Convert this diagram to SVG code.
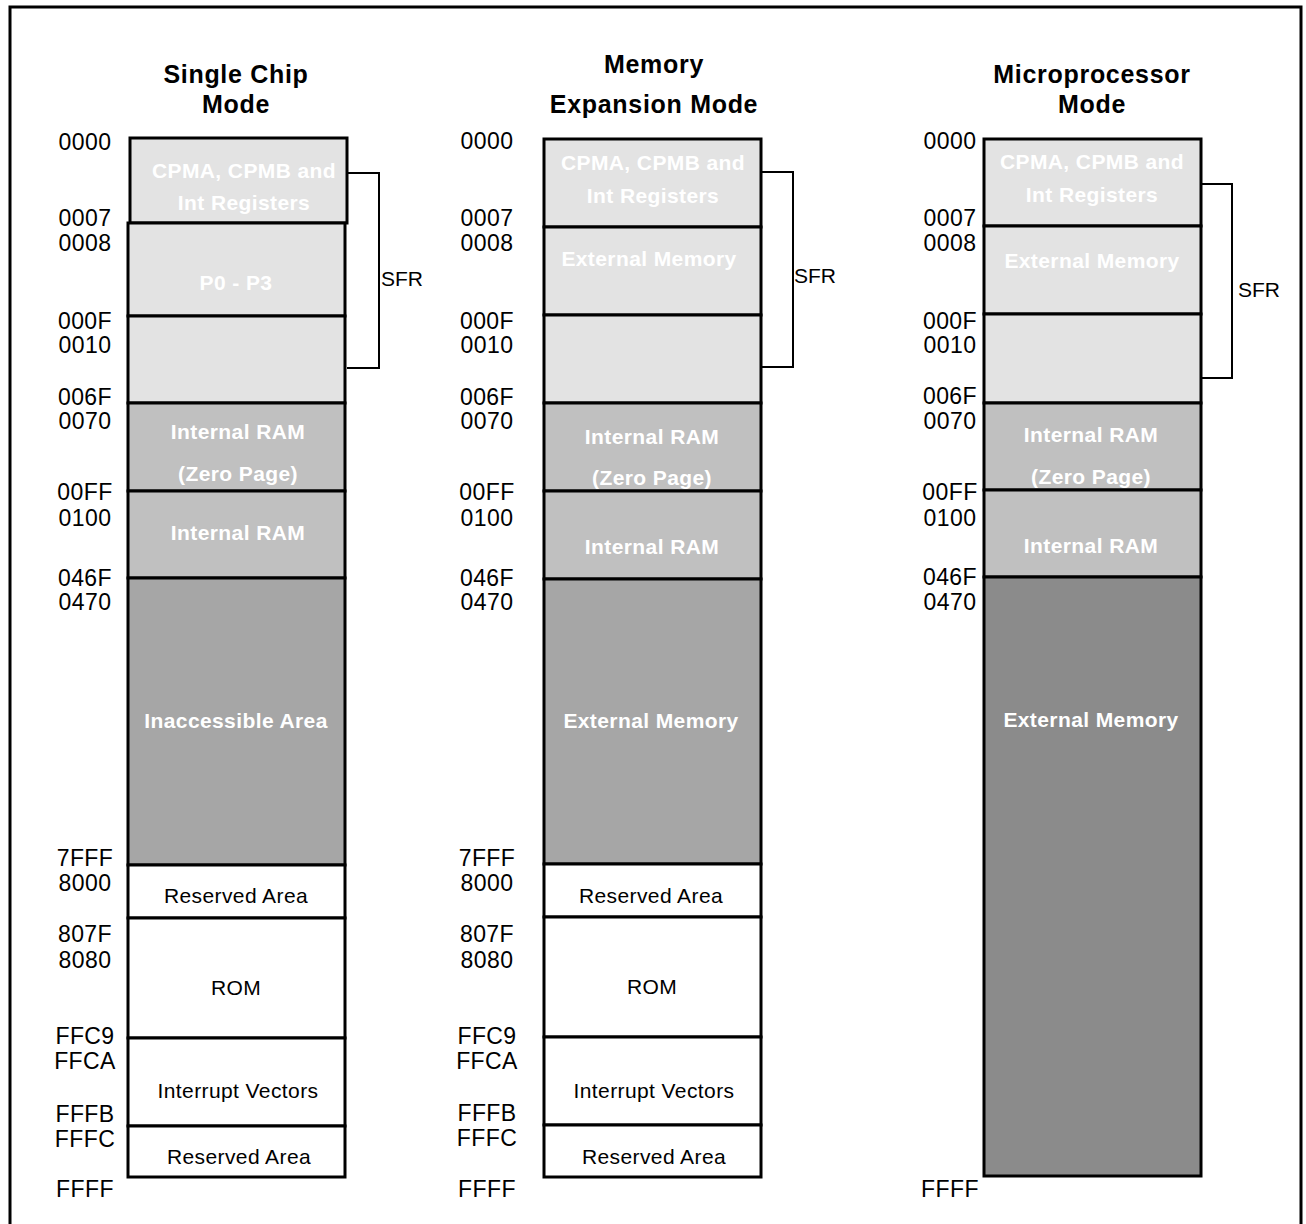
<svg xmlns="http://www.w3.org/2000/svg" width="1306" height="1224" viewBox="0 0 1306 1224">
<style>
.hdr{font-family:"Liberation Sans",Arial,sans-serif;font-weight:bold;font-size:25px;letter-spacing:0.7px;fill:#000;text-anchor:middle}
.addr{font-family:"Liberation Sans",Arial,sans-serif;font-size:23px;letter-spacing:0.4px;fill:#000;text-anchor:middle}
.wl{font-family:"Liberation Sans",Arial,sans-serif;font-weight:bold;font-size:21px;letter-spacing:0.4px;fill:#fff;text-anchor:middle}
.bl{font-family:"Liberation Sans",Arial,sans-serif;font-size:21px;letter-spacing:0.4px;fill:#000;text-anchor:middle}
.sfr{font-family:"Liberation Sans",Arial,sans-serif;font-size:21px;fill:#000}
.cell{stroke:#000;stroke-width:3}
.c1{fill:#e3e3e3}.c2{fill:#c0c0c0}.c3{fill:#a6a6a6}.c4{fill:#8b8b8b}.cw{fill:#fff}
.br{fill:none;stroke:#000;stroke-width:2}
</style>
<rect width="1306" height="1224" fill="#fff"/>
<path d="M10,1224 V7 H1301 V1224" fill="none" stroke="#000" stroke-width="3"/>

<g id="col1">
<text class="hdr" x="236" y="83">Single Chip</text>
<text class="hdr" x="236" y="113">Mode</text>
<g id="c1-cpma"><rect class="cell c1" x="130" y="138" width="217" height="85"/><text class="wl" x="244" y="178">CPMA, CPMB and</text><text class="wl" x="244" y="210">Int Registers</text></g>
<g id="c1-p0p3"><rect class="cell c1" x="128" y="223" width="217" height="93"/><text class="wl" x="236" y="290">P0 - P3</text></g>
<g id="c1-blank"><rect class="cell c1" x="128" y="316" width="217" height="87"/></g>
<g id="c1-zp"><rect class="cell c2" x="128" y="403" width="217" height="88"/><text class="wl" x="238" y="439">Internal RAM</text><text class="wl" x="238" y="481">(Zero Page)</text></g>
<g id="c1-iram"><rect class="cell c2" x="128" y="491" width="217" height="87"/><text class="wl" x="238" y="540">Internal RAM</text></g>
<g id="c1-inacc"><rect class="cell c3" x="128" y="578" width="217" height="287"/><text class="wl" x="236" y="728">Inaccessible Area</text></g>
<g id="c1-res1"><rect class="cell cw" x="128" y="865" width="217" height="53"/><text class="bl" x="236" y="903">Reserved Area</text></g>
<g id="c1-rom"><rect class="cell cw" x="128" y="918" width="217" height="120"/><text class="bl" x="236" y="995">ROM</text></g>
<g id="c1-iv"><rect class="cell cw" x="128" y="1038" width="217" height="88"/><text class="bl" x="238" y="1098">Interrupt Vectors</text></g>
<g id="c1-res2"><rect class="cell cw" x="128" y="1126" width="217" height="51"/><text class="bl" x="239" y="1164">Reserved Area</text></g>
<path class="br" d="M347,173 H379 V368 H347"/>
<text class="sfr" x="381" y="286">SFR</text>
<g id="c1-addr">
<text class="addr" x="85" y="150">0000</text>
<text class="addr" x="85" y="226">0007</text>
<text class="addr" x="85" y="251">0008</text>
<text class="addr" x="85" y="329">000F</text>
<text class="addr" x="85" y="353">0010</text>
<text class="addr" x="85" y="405">006F</text>
<text class="addr" x="85" y="429">0070</text>
<text class="addr" x="85" y="500">00FF</text>
<text class="addr" x="85" y="526">0100</text>
<text class="addr" x="85" y="586">046F</text>
<text class="addr" x="85" y="610">0470</text>
<text class="addr" x="85" y="866">7FFF</text>
<text class="addr" x="85" y="891">8000</text>
<text class="addr" x="85" y="942">807F</text>
<text class="addr" x="85" y="968">8080</text>
<text class="addr" x="85" y="1044">FFC9</text>
<text class="addr" x="85" y="1069">FFCA</text>
<text class="addr" x="85" y="1122">FFFB</text>
<text class="addr" x="85" y="1147">FFFC</text>
<text class="addr" x="85" y="1197">FFFF</text>
</g>
</g>

<g id="col2">
<text class="hdr" x="654" y="73">Memory</text>
<text class="hdr" x="654" y="113">Expansion Mode</text>
<g id="c2-cpma"><rect class="cell c1" x="544" y="139" width="217" height="88"/><text class="wl" x="653" y="170">CPMA, CPMB and</text><text class="wl" x="653" y="203">Int Registers</text></g>
<g id="c2-ext1"><rect class="cell c1" x="544" y="227" width="217" height="88"/><text class="wl" x="649" y="266">External Memory</text></g>
<g id="c2-blank"><rect class="cell c1" x="544" y="315" width="217" height="88"/></g>
<g id="c2-zp"><rect class="cell c2" x="544" y="403" width="217" height="88"/><text class="wl" x="652" y="444">Internal RAM</text><text class="wl" x="652" y="485">(Zero Page)</text></g>
<g id="c2-iram"><rect class="cell c2" x="544" y="491" width="217" height="88"/><text class="wl" x="652" y="554">Internal RAM</text></g>
<g id="c2-ext2"><rect class="cell c3" x="544" y="579" width="217" height="285"/><text class="wl" x="651" y="728">External Memory</text></g>
<g id="c2-res1"><rect class="cell cw" x="544" y="864" width="217" height="53"/><text class="bl" x="651" y="903">Reserved Area</text></g>
<g id="c2-rom"><rect class="cell cw" x="544" y="917" width="217" height="120"/><text class="bl" x="652" y="994">ROM</text></g>
<g id="c2-iv"><rect class="cell cw" x="544" y="1037" width="217" height="88"/><text class="bl" x="654" y="1098">Interrupt Vectors</text></g>
<g id="c2-res2"><rect class="cell cw" x="544" y="1125" width="217" height="52"/><text class="bl" x="654" y="1164">Reserved Area</text></g>
<path class="br" d="M761,172 H793 V367 H761"/>
<text class="sfr" x="794" y="283">SFR</text>
<g id="c2-addr">
<text class="addr" x="487" y="149">0000</text>
<text class="addr" x="487" y="226">0007</text>
<text class="addr" x="487" y="251">0008</text>
<text class="addr" x="487" y="329">000F</text>
<text class="addr" x="487" y="353">0010</text>
<text class="addr" x="487" y="405">006F</text>
<text class="addr" x="487" y="429">0070</text>
<text class="addr" x="487" y="500">00FF</text>
<text class="addr" x="487" y="526">0100</text>
<text class="addr" x="487" y="586">046F</text>
<text class="addr" x="487" y="610">0470</text>
<text class="addr" x="487" y="866">7FFF</text>
<text class="addr" x="487" y="891">8000</text>
<text class="addr" x="487" y="942">807F</text>
<text class="addr" x="487" y="968">8080</text>
<text class="addr" x="487" y="1044">FFC9</text>
<text class="addr" x="487" y="1069">FFCA</text>
<text class="addr" x="487" y="1121">FFFB</text>
<text class="addr" x="487" y="1146">FFFC</text>
<text class="addr" x="487" y="1197">FFFF</text>
</g>
</g>

<g id="col3">
<text class="hdr" x="1092" y="83">Microprocessor</text>
<text class="hdr" x="1092" y="113">Mode</text>
<g id="c3-cpma"><rect class="cell c1" x="984" y="139" width="217" height="87"/><text class="wl" x="1092" y="169">CPMA, CPMB and</text><text class="wl" x="1092" y="202">Int Registers</text></g>
<g id="c3-ext1"><rect class="cell c1" x="984" y="226" width="217" height="88"/><text class="wl" x="1092" y="268">External Memory</text></g>
<g id="c3-blank"><rect class="cell c1" x="984" y="314" width="217" height="89"/></g>
<g id="c3-zp"><rect class="cell c2" x="984" y="403" width="217" height="87"/><text class="wl" x="1091" y="442">Internal RAM</text><text class="wl" x="1091" y="484">(Zero Page)</text></g>
<g id="c3-iram"><rect class="cell c2" x="984" y="490" width="217" height="87"/><text class="wl" x="1091" y="553">Internal RAM</text></g>
<g id="c3-ext2"><rect class="cell c4" x="984" y="577" width="217" height="599"/><text class="wl" x="1091" y="727">External Memory</text></g>
<path class="br" d="M1201,184 H1232 V378 H1201"/>
<text class="sfr" x="1238" y="297">SFR</text>
<g id="c3-addr">
<text class="addr" x="950" y="149">0000</text>
<text class="addr" x="950" y="226">0007</text>
<text class="addr" x="950" y="251">0008</text>
<text class="addr" x="950" y="329">000F</text>
<text class="addr" x="950" y="353">0010</text>
<text class="addr" x="950" y="404">006F</text>
<text class="addr" x="950" y="429">0070</text>
<text class="addr" x="950" y="500">00FF</text>
<text class="addr" x="950" y="526">0100</text>
<text class="addr" x="950" y="585">046F</text>
<text class="addr" x="950" y="610">0470</text>
<text class="addr" x="950" y="1197">FFFF</text>
</g>
</g>
</svg>
